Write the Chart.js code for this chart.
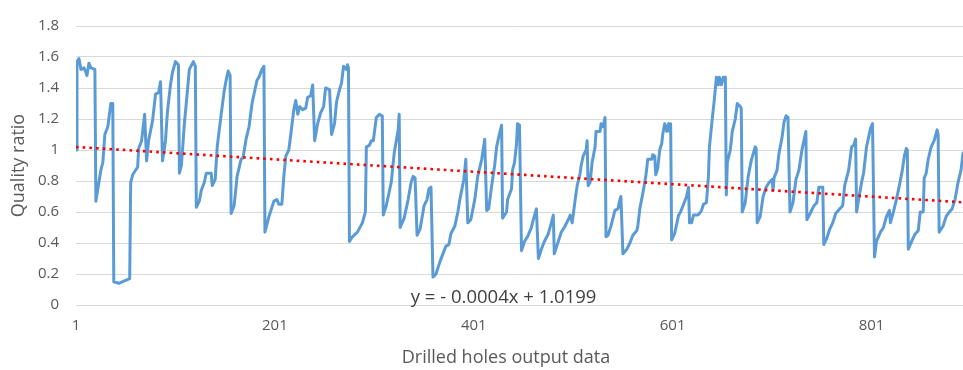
<!DOCTYPE html>
<html>
<head>
<meta charset="utf-8">
<script src="https://cdn.jsdelivr.net/npm/chart.js@4/dist/chart.umd.min.js"></script>
<style>
html,body{margin:0;padding:0;background:#ffffff;}
#wrap{width:963px;height:370px;}
</style>
</head>
<body>
<div id="wrap"><canvas id="c" width="963" height="370"></canvas></div>
<script>
// Vertices of the quality-ratio trace (hole index, ratio)
const holeIndex = [
  1,2,4,6,9,11,12,14,16,20,21,23,26,28,30,33,36,38,39,44,55,56,58,63,64,67,70,72,74,78,81,84,86,88,91,93,96,98,101,104,105,
  107,110,113,115,119,121,122,125,127,130,132,137,138,141,143,147,150,152,154,156,157,160,163,167,169,172,175,178,183,185,188,190,191,195,197,200,203,205,208,
  210,212,215,217,220,222,224,226,229,232,234,237,239,241,244,247,250,252,256,258,261,263,266,268,270,273,274,275,276,279,284,289,292,293,296,298,300,303,306,309,310,313,318,321,325,326,
  327,331,335,338,340,342,344,347,350,351,354,356,358,360,363,367,370,373,376,378,382,385,387,391,393,395,398,402,405,409,412,414,416,419,422,424,426,429,430,
  434,435,439,440,442,444,445,447,449,452,455,459,460,464,466,469,472,476,479,481,482,486,489,492,496,498,500,503,505,508,509,511,514,515,516,518,520,523,524,528,529,531,533,534,536,539,543,
  546,548,549,551,555,558,561,565,566,568,571,574,576,580,581,583,584,586,588,590,591,593,595,597,598,599,600,603,607,609,612,615,617,618,620,622,626,628,630,632,635,637,638,641,643,645,647,648,650,652,654,655,
  656,659,661,664,666,669,670,671,674,677,680,684,685,686,689,692,695,698,701,702,703,706,708,711,713,715,717,719,722,725,728,731,733,735,736,740,743,746,748,752,753,756,759,762,765,769,
  772,774,778,781,783,785,786,788,791,793,796,798,800,802,804,806,810,813,816,819,820,823,826,829,832,834,836,837,838,842,845,848,850,853,854,856,858,861,864,867,868,869,873,876,878,882,885,888,891,893
];
const qualityRatio = [
  1.00,1.57,1.59,1.52,1.53,1.50,1.48,1.56,1.53,1.52,0.67,0.75,0.87,0.92,1.10,1.15,1.30,1.30,0.15,0.14,0.17,0.79,0.84,0.89,1.01,1.06,1.23,0.93,1.06,1.19,1.36,1.37,1.44,0.93,1.06,1.25,1.42,1.50,1.57,1.55,0.85,
  0.90,1.17,1.38,1.52,1.57,1.54,0.63,0.67,0.74,0.79,0.85,0.85,0.77,0.81,1.02,1.23,1.38,1.45,1.51,1.48,0.59,0.64,0.83,0.94,0.95,1.07,1.15,1.30,1.45,1.47,1.52,1.54,0.47,0.57,0.61,0.67,0.68,0.65,0.65,
  0.83,0.96,1.00,1.10,1.26,1.32,1.23,1.28,1.26,1.27,1.34,1.35,1.42,1.06,1.17,1.24,1.28,1.40,1.39,1.10,1.17,1.31,1.39,1.43,1.54,1.52,1.55,1.53,0.41,0.44,0.47,0.53,0.60,1.02,1.03,1.06,1.06,1.21,1.23,1.22,0.58,0.64,0.79,0.98,1.13,1.23,
  0.50,0.56,0.68,0.79,0.83,0.82,0.45,0.49,0.60,0.64,0.68,0.75,0.76,0.18,0.20,0.28,0.33,0.38,0.39,0.46,0.51,0.60,0.68,0.81,0.94,0.53,0.55,0.68,0.83,0.94,1.07,0.61,0.62,0.77,0.90,1.02,1.08,1.16,0.56,
  0.60,0.68,0.75,0.87,0.92,1.04,1.17,1.16,0.35,0.41,0.44,0.50,0.53,0.62,0.30,0.36,0.41,0.46,0.53,0.58,0.33,0.41,0.47,0.50,0.55,0.58,0.53,0.68,0.77,0.85,0.90,0.96,1.00,1.06,0.77,0.79,0.92,1.02,1.12,1.12,1.17,1.15,1.21,0.44,0.45,0.51,0.61,
  0.62,0.68,0.70,0.33,0.36,0.40,0.45,0.48,0.51,0.62,0.72,0.83,0.94,0.94,0.97,0.96,0.84,0.88,1.00,1.04,1.10,1.17,1.12,1.17,1.12,1.17,0.42,0.46,0.58,0.60,0.65,0.70,0.76,0.53,0.53,0.58,0.58,0.59,0.61,0.65,0.66,0.83,1.02,1.21,1.33,1.47,1.42,1.47,1.42,1.47,1.47,0.71,
  0.92,1.00,1.12,1.20,1.30,1.28,1.27,0.60,0.66,0.83,0.93,1.02,1.01,0.53,0.57,0.70,0.76,0.79,0.81,0.74,0.82,0.87,0.98,1.08,1.18,1.22,1.21,0.60,0.66,0.81,0.87,1.00,1.06,1.12,0.55,0.60,0.64,0.66,0.76,0.76,0.39,0.43,0.49,0.53,0.59,0.62,
  0.64,0.77,0.87,1.02,1.03,1.07,0.60,0.68,0.79,0.85,1.02,1.08,1.14,1.17,0.31,0.41,0.47,0.50,0.57,0.61,0.53,0.60,0.68,0.77,0.87,0.96,1.01,1.00,0.36,0.42,0.46,0.48,0.60,0.60,0.82,0.85,0.94,1.02,1.06,1.13,1.10,0.47,0.51,0.57,0.59,0.62,0.68,0.79,0.87,0.98
];
const xFirst = 1;
const xLast = 893;
const xTickValues = [1, 201, 401, 601, 801];
const xTickLabels = ['1', '201', '401', '601', '801'];
const yTickValues = [0, 0.2, 0.4, 0.6, 0.8, 1, 1.2, 1.4, 1.6, 1.8];
const yTickLabels = ['0', '0.2', '0.4', '0.6', '0.8', '1', '1.2', '1.4', '1.6', '1.8'];
const trendSlope = -0.0004;
const trendIntercept = 1.0199;
const trendLabel = 'y = - 0.0004x + 1.0199';
const xAxisTitle = 'Drilled holes output data';
const yAxisTitle = 'Quality ratio';

const FONT = '"Open Sans", "Noto Sans", "DejaVu Sans", sans-serif';

const seriesPoints = holeIndex.map((x, i) => ({ x: x, y: qualityRatio[i] }));
const trendPoints = [xFirst, xLast].map(x => ({ x: x, y: trendSlope * x + trendIntercept }));

const textPlugin = {
  id: 'extraText',
  afterDraw(chart, args, opts) {
    const { ctx, scales } = chart;
    ctx.save();
    ctx.textAlign = 'center';
    ctx.textBaseline = 'alphabetic';
    ctx.fillStyle = opts.eqColor;
    ctx.font = opts.eqFont;
    ctx.fillText(trendLabel, scales.x.getPixelForValue(opts.eqAt.x), scales.y.getPixelForValue(opts.eqAt.y));
    ctx.fillStyle = opts.titleColor;
    ctx.font = opts.titleFont;
    ctx.fillText(xAxisTitle, opts.xTitleCenter, opts.xTitleBaseline);
    ctx.restore();
  }
};

new Chart(document.getElementById('c'), {
  type: 'line',
  data: {
    datasets: [
      {
        label: 'Linear trend',
        data: trendPoints,
        borderColor: '#FF0000',
        borderWidth: 2.6,
        borderDash: [2.6, 4.1],
        borderCapStyle: 'butt',
        pointRadius: 0,
        fill: false,
        tension: 0,
        order: 0
      },
      {
        label: 'Quality ratio',
        data: seriesPoints,
        borderColor: '#5B9BD5',
        borderWidth: 3,
        borderJoinStyle: 'round',
        borderCapStyle: 'round',
        pointRadius: 0,
        fill: false,
        tension: 0,
        order: 1
      }
    ]
  },
  options: {
    responsive: false,
    animation: false,
    devicePixelRatio: 1,
    layout: { padding: { left: 0, right: 0, top: 20, bottom: 0 } },
    plugins: {
      legend: { display: false },
      tooltip: { enabled: false },
      extraText: {
        eqAt: { x: 431, y: 0.013 },
        eqFont: '18.5px ' + FONT,
        eqColor: '#404040',
        titleFont: '18px ' + FONT,
        titleColor: '#595959',
        xTitleCenter: 506,
        xTitleBaseline: 363
      }
    },
    scales: {
      x: {
        type: 'linear',
        min: xFirst,
        max: xLast,
        grid: { display: false, drawTicks: false },
        border: { display: false },
        afterBuildTicks: (axis) => { axis.ticks = xTickValues.map(v => ({ value: v })); },
        afterFit: (scale) => { scale.height = 65; },
        ticks: {
          autoSkip: false,
          maxRotation: 0,
          padding: 12,
          color: '#595959',
          font: { family: FONT, size: 15 },
          callback: (v) => { const i = xTickValues.indexOf(v); return i >= 0 ? xTickLabels[i] : ''; }
        }
      },
      y: {
        min: 0,
        max: 1.8,
        afterBuildTicks: (axis) => { axis.ticks = yTickValues.map(v => ({ value: v })); },
        afterFit: (scale) => { scale.width = 76; },
        grid: { color: '#D9D9D9', lineWidth: 1, drawTicks: false },
        border: { display: false },
        ticks: {
          padding: 17,
          color: '#595959',
          font: { family: FONT, size: 15 },
          callback: (v) => { const i = yTickValues.indexOf(v); return i >= 0 ? yTickLabels[i] : ''; }
        },
        title: {
          display: true,
          text: yAxisTitle,
          color: '#595959',
          font: { family: FONT, size: 18 },
          padding: { top: 8, bottom: 0 }
        }
      }
    }
  },
  plugins: [textPlugin]
});
</script>
</body>
</html>
